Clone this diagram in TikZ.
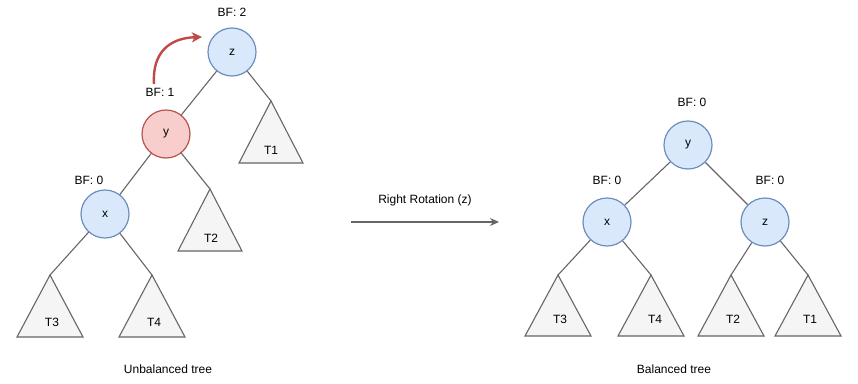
\documentclass[tikz,border=0pt]{standalone}
\usepackage{fontspec}
\setmainfont{Liberation Sans}
\usepackage{xcolor}
\usetikzlibrary{arrows.meta}

\definecolor{bluefill}{HTML}{DAE8FC}
\definecolor{blueline}{HTML}{6C8EBF}
\definecolor{redfill}{HTML}{F8CECC}
\definecolor{redline}{HTML}{B85450}
\definecolor{arrowred}{HTML}{C04A46}
\definecolor{trifill}{HTML}{F5F5F5}
\definecolor{edgegray}{HTML}{666666}

\begin{document}
\begin{tikzpicture}[x=1pt,y=-1pt,
  font=\fontsize{12}{14}\selectfont,
  keynode/.style={circle, draw=blueline, fill=bluefill, line width=1.2pt, minimum size=48pt, inner sep=0pt},
  hotnode/.style={keynode, draw=redline, fill=redfill},
  edge/.style={draw=edgegray, line width=1.1pt},
  tri/.style={draw=edgegray, fill=trifill, line width=1.1pt, line join=miter},
  lbl/.style={inner sep=0pt}]
\useasboundingbox (0,0) rectangle (858,383);

% unbalanced tree
\node[keynode] (z) at (232,52) {z};
\node[lbl] (bfz) at (232,12) {BF: 2};
\node[hotnode] (y) at (166,134) {y};
\node[lbl] (bfy) at (160,92) {BF: 1};
\node[keynode] (x) at (105,214) {x};
\node[lbl] (bfx) at (89,180) {BF: 0};

\coordinate (t1) at (271,101);
\coordinate (t2) at (210,189);
\coordinate (t3) at (50,275);
\coordinate (t4) at (152,275);

\draw[tri] (t1) -- ++(-32,62) -- ++(64,0) -- cycle;
\draw[tri] (t2) -- ++(-32,62) -- ++(64,0) -- cycle;
\draw[tri] (t3) -- ++(-33,62) -- ++(66,0) -- cycle;
\draw[tri] (t4) -- ++(-33,62) -- ++(66,0) -- cycle;
\node[lbl] (t1lbl) at (271,150) {T1};
\node[lbl] (t2lbl) at (211,238) {T2};
\node[lbl] (t3lbl) at (52,322) {T3};
\node[lbl] (t4lbl) at (154,322) {T4};

\draw[edge] (z) -- (y);
\draw[edge] (z) -- (t1);
\draw[edge] (y) -- (x);
\draw[edge] (y) -- (t2);
\draw[edge] (x) -- (t3);
\draw[edge] (x) -- (t4);

\coordinate (rotfrom) at (154,84);
\coordinate (rotto) at (202,37);
\draw[arrowred, line width=2.4pt, -{Stealth[length=10pt,width=10pt,inset=2.5pt]}]
  (rotfrom) .. controls (152,52) and (170,38) .. (rotto);

\node[lbl] (lefttitle) at (168,369) {Unbalanced tree};

% rotation
\coordinate (arrfrom) at (351,222);
\coordinate (arrto) at (499,222);
\draw[edgegray, line width=1.3pt, -{Stealth[length=9pt,width=8pt]}] (arrfrom) -- (arrto);
\node[lbl] (rotlbl) at (425,200) {Right Rotation (z)};

% balanced tree
\node[keynode] (y2) at (688,145) {y};
\node[lbl] (bfy2) at (692,102) {BF: 0};
\node[keynode] (x2) at (607,222) {x};
\node[lbl] (bfx2) at (607,180) {BF: 0};
\node[keynode] (z2) at (765,222) {z};
\node[lbl] (bfz2) at (770,180) {BF: 0};

\coordinate (u3) at (558,275);
\coordinate (u4) at (651,275);
\coordinate (u2) at (731,275);
\coordinate (u1) at (808,275);

\draw[tri] (u3) -- ++(-33,61) -- ++(66,0) -- cycle;
\draw[tri] (u4) -- ++(-33,61) -- ++(66,0) -- cycle;
\draw[tri] (u2) -- ++(-33,61) -- ++(66,0) -- cycle;
\draw[tri] (u1) -- ++(-33,61) -- ++(66,0) -- cycle;
\node[lbl] (u3lbl) at (560,319) {T3};
\node[lbl] (u4lbl) at (655,319) {T4};
\node[lbl] (u2lbl) at (733,319) {T2};
\node[lbl] (u1lbl) at (810,319) {T1};

\draw[edge] (y2) -- (x2);
\draw[edge] (y2) -- (z2);
\draw[edge] (x2) -- (u3);
\draw[edge] (x2) -- (u4);
\draw[edge] (z2) -- (u2);
\draw[edge] (z2) -- (u1);

\node[lbl] (righttitle) at (674,369) {Balanced tree};
\end{tikzpicture}
\end{document}
